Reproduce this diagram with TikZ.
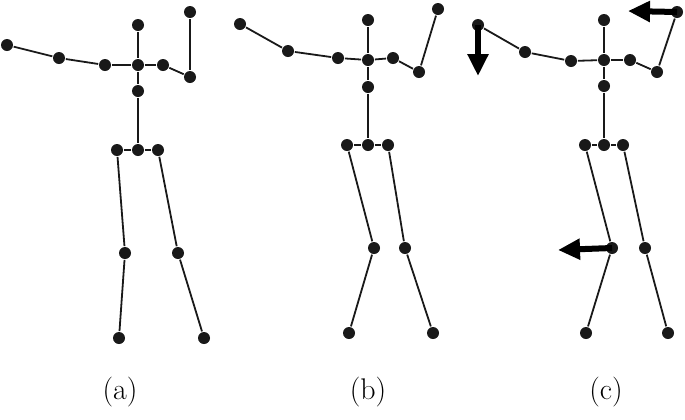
\documentclass[tikz,border=0pt]{standalone}
\usetikzlibrary{arrows.meta}
\begin{document}
\begin{tikzpicture}[x=1bp,y=-1bp,line width=1.8bp,
  joint/.style={circle,fill=black!90,inner sep=0pt,minimum size=12bp},
  bone/.style={black!90},
  push/.style={line width=6bp,-{Triangle[width=20bp,length=22bp]}},
  caption/.style={font=\fontsize{30}{34}\selectfont}]
  \useasboundingbox (0,0) rectangle (685,419);
  % Skeleton (a)
  \node[joint] (aH)  at (138,25) {};
  \node[joint] (aC)  at (138,65) {};
  \node[joint] (aS)  at (138,91) {};
  \node[joint] (aP)  at (138,150) {};
  \node[joint] (aLP) at (117,150) {};
  \node[joint] (aRP) at (158,150) {};
  \node[joint] (aLS) at (105,65) {};
  \node[joint] (aLE) at (59,58) {};
  \node[joint] (aLW) at (7,45) {};
  \node[joint] (aRS) at (163,65) {};
  \node[joint] (aRE) at (190,77) {};
  \node[joint] (aRW) at (190,12) {};
  \node[joint] (aLK) at (125,253) {};
  \node[joint] (aRK) at (178,253) {};
  \node[joint] (aLF) at (119,338) {};
  \node[joint] (aRF) at (204,338) {};
  % Skeleton (b)
  \node[joint] (bH)  at (368,20) {};
  \node[joint] (bC)  at (368,60) {};
  \node[joint] (bS)  at (368,87) {};
  \node[joint] (bP)  at (368,145) {};
  \node[joint] (bLP) at (347,145) {};
  \node[joint] (bRP) at (388,145) {};
  \node[joint] (bLS) at (338,58) {};
  \node[joint] (bLE) at (288,51) {};
  \node[joint] (bLW) at (240,24) {};
  \node[joint] (bRS) at (393,58) {};
  \node[joint] (bRE) at (419,72) {};
  \node[joint] (bRW) at (438,9) {};
  \node[joint] (bLK) at (374,248) {};
  \node[joint] (bRK) at (405,248) {};
  \node[joint] (bLF) at (349,333) {};
  \node[joint] (bRF) at (433,333) {};
  % Skeleton (c)
  \node[joint] (cH)  at (604,20) {};
  \node[joint] (cC)  at (604,60) {};
  \node[joint] (cS)  at (604,86) {};
  \node[joint] (cP)  at (604,145) {};
  \node[joint] (cLP) at (585,145) {};
  \node[joint] (cRP) at (623,145) {};
  \node[joint] (cLS) at (571,61) {};
  \node[joint] (cLE) at (525,52) {};
  \node[joint] (cLW) at (478,25) {};
  \node[joint] (cRS) at (630,60) {};
  \node[joint] (cRE) at (657,72) {};
  \node[joint] (cRW) at (677,12) {};
  \node[joint] (cLK) at (612,248) {};
  \node[joint] (cRK) at (645,248) {};
  \node[joint] (cLF) at (586,333) {};
  \node[joint] (cRF) at (668,333) {};
  % Bones
  \foreach \f in {a,b,c}
    \foreach \u/\v in {H/C,C/S,S/P,P/LP,P/RP,C/LS,LS/LE,LE/LW,C/RS,RS/RE,RE/RW,LP/LK,LK/LF,RP/RK,RK/RF}
      \draw[bone] (\f\u) -- (\f\v);
  % Motion arrows
  \coordinate (mLW) at (478,76);
  \coordinate (mRW) at (628,11);
  \coordinate (mLK) at (558,250);
  \draw[push] (cLW.center) -- (mLW);
  \draw[push] (cRW.center) -- (mRW);
  \draw[push] (cLK.center) -- (mLK);
  % Captions
  \node[caption] (capA) at (120,392) {(a)};
  \node[caption] (capB) at (368,392) {(b)};
  \node[caption] (capC) at (606,392) {(c)};
\end{tikzpicture}
\end{document}
